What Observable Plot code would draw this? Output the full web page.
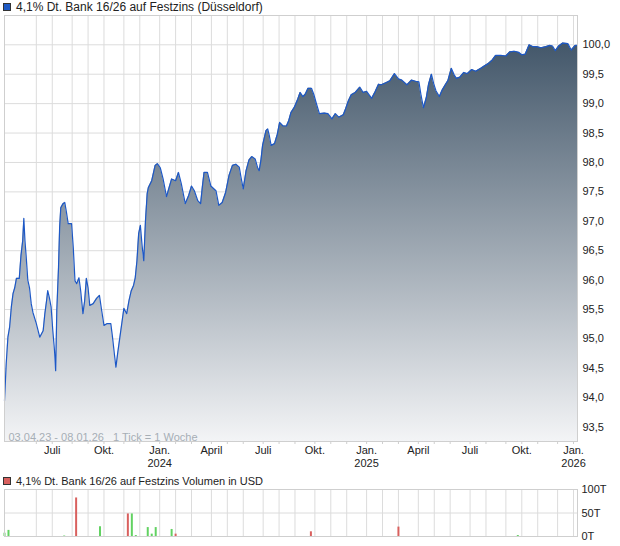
<!DOCTYPE html>
<html><head><meta charset="utf-8">
<script src="https://cdn.jsdelivr.net/npm/d3@7"></script>
<script src="https://cdn.jsdelivr.net/npm/@observablehq/plot@0.6"></script>
<style>
body{margin:0;background:#fff;font-family:"Liberation Sans",Arial,sans-serif;}
#wrap{position:relative;width:620px;height:546px;overflow:hidden;}
.title{position:absolute;left:3px;color:#222;white-space:nowrap;line-height:12px;}
.sq{display:inline-block;width:6px;height:6px;border:1px solid #333;margin-right:5px;vertical-align:0px}
</style></head><body>
<div id="wrap">
 <div id="price" style="position:absolute;left:0;top:0"></div>
 <div id="vol" style="position:absolute;left:0;top:484px"></div>
 <div class="title" style="top:1px;font-size:12px"><span class="sq" style="background:#1f5ac4"></span><span id="t1"></span></div>
 <div class="title" style="top:475px;font-size:11px"><span class="sq" style="background:#d9605e"></span><span id="t2"></span></div>
</div>
<script>
const titlePrice = "4,1% Dt. Bank 16/26 auf Festzins (Düsseldorf)";
const titleVolume = "4,1% Dt. Bank 16/26 auf Festzins Volumen in USD";
const rangeLabel = "03.04.23 - 08.01.26   1 Tick = 1 Woche";
const startDate = "2023-04-03";
const endDate = "2026-01-05";

// days after 03.04.2023 and price
const days = [
 0,3,6,9,12,15,18,21,26,29,
 32,34,36,38,41,44,47,50,56,62,
 68,71,74,76,79,82,85,88,90,92,
 95,97,99,103,106,109,112,118,121,124,
 127,131,134,138,141,144,147,150,156,162,
 167,171,175,180,187,190,193,196,199,203,
 207,210,215,219,223,227,230,233,236,239,
 242,245,248,251,253,259,265,269,274,279,
 285,288,294,301,306,311,318,324,329,334,
 340,345,348,351,357,363,372,377,383,389,
 395,401,407,413,416,420,425,430,435,441,
 445,448,451,454,460,463,466,469,475,480,
 484,490,496,500,504,510,516,520,525,529,
 534,540,544,549,554,563,569,576,582,588,
 596,600,605,610,617,625,631,637,646,652,
 658,663,672,678,686,693,699,708,716,723,
 729,733,737,742,746,751,755,759,765,770,
 776,780,786,791,795,801,808,814,822,829,
 838,844,851,858,864,873,882,889,897,905,
 910,916,923,929,936,944,953,959,964,969,
 975,982,991,997,1004,1008];
const price = [
 93.95,94.58,95.03,95.2,95.54,95.77,95.87,96.03,96.03,96.42,
 96.67,97.05,96.67,96.42,96.0,95.87,95.6,95.45,95.26,95.03,
 95.14,95.43,95.65,95.82,95.7,95.54,95.14,94.8,94.46,95.48,
 96.21,96.9,97.23,97.3,97.32,97.15,96.96,96.96,96.55,95.99,
 95.94,96.04,95.82,95.43,95.65,96.03,95.87,95.57,95.6,95.69,
 95.74,95.48,95.23,95.26,95.26,95.03,94.77,94.52,94.75,95.03,
 95.31,95.52,95.43,95.65,95.82,95.91,96.04,96.33,96.79,96.93,
 96.59,96.33,97.01,97.47,97.57,97.69,97.95,97.98,97.91,97.72,
 97.42,97.52,97.72,97.69,97.83,97.64,97.3,97.44,97.6,97.52,
 97.35,97.3,97.58,97.83,97.83,97.6,97.52,97.27,97.32,97.49,
 97.78,97.95,97.97,97.92,97.75,97.55,97.86,98.04,98.1,98.06,
 97.92,97.86,98.03,98.29,98.54,98.57,98.45,98.29,98.32,98.48,
 98.68,98.62,98.62,98.71,98.85,98.94,99.08,99.19,99.12,99.16,
 99.26,99.26,99.16,98.99,98.83,98.84,98.83,98.74,98.83,98.77,
 98.81,98.91,99.05,99.15,99.19,99.28,99.19,99.21,99.09,99.2,
 99.33,99.32,99.36,99.39,99.51,99.42,99.4,99.32,99.4,99.38,
 99.37,99.13,98.93,99.1,99.33,99.5,99.34,99.22,99.12,99.23,
 99.33,99.39,99.6,99.49,99.43,99.45,99.53,99.51,99.58,99.55,
 99.6,99.64,99.68,99.74,99.82,99.82,99.81,99.88,99.89,99.87,
 99.83,99.84,100.0,99.97,99.97,99.95,99.97,99.99,99.98,99.9,
 99.98,100.03,100.02,99.91,99.99,99.99];

// weekly volume (thousand USD), week start dates, direction
const volDates = ["2023-04-03","2023-04-10","2023-07-17","2023-08-07","2023-09-18","2023-11-06","2023-11-13","2023-11-20","2023-12-11","2023-12-18","2023-12-25","2024-01-22","2024-01-29","2024-09-23","2025-02-24","2025-09-22"];
const volValues = [7,13,1,82,21,48,48,2,19,5,19,15,5,10,20,2];
const volDir = ["up","up","up","down","up","down","up","up","up","up","up","up","down","down","down","up"];

const yTicks = [93.5,94,94.5,95,95.5,96,96.5,97,97.5,98,98.5,99,99.5,100];
const volTicks = [0,50,100];
const monthLabels = {0:"Jan.",3:"April",6:"Juli",9:"Okt."};

document.getElementById("t1").textContent = titlePrice;
document.getElementById("t2").textContent = titleVolume;

const start = new Date(startDate), end = new Date(endDate);
const priceData = days.map((d,i)=>({date: d3.utcDay.offset(start,d), price: price[i]}));
const volData = volDates.map((d,i)=>({date:new Date(d), v: volValues[i], c: volDir[i]==="up" ? "#62d262" : "#d9605e"}));

// grid at the week that contains the first of each month
const months = d3.utcMonths(d3.utcMonth.offset(start,1), d3.utcMonth.offset(end,1));
const monthTicks = months.map(m=>({m, w: d3.utcMonday.floor(m)})).filter(o=>o.w>=start && o.w<=end);
const quarterTicks = monthTicks.filter(o=>o.m.getUTCMonth()%3===0);
const fmt = o => { const k=o.m.getUTCMonth(); return k===0 ? monthLabels[0]+"\n"+o.m.getUTCFullYear() : monthLabels[k]; };

const yMin = 93.257, yMax = 100.498;
const font = "'Liberation Sans', Arial, sans-serif";

const priceSvg = Plot.plot({
  width:620, height:475,
  marginLeft:4, marginRight:43, marginTop:15, marginBottom:34,
  style:{background:"transparent", fontFamily:font, fontSize:"11px", color:"#222", overflow:"visible"},
  x:{type:"utc", domain:[start,end], axis:null, label:null},
  y:{domain:[yMin,yMax], axis:null, label:null},
  marks:[
    Plot.ruleY(yTicks,{stroke:"#dcdcdc", strokeOpacity:1}),
    Plot.ruleX(monthTicks,{x:"w", stroke:"#dcdcdc", strokeOpacity:1}),
    Plot.areaY(priceData,{x:"date", y1:yMin, y2:"price", fill:"url(#pg)"}),
    Plot.lineY(priceData,{x:"date", y:"price", stroke:"#1d58c6", strokeWidth:1.2}),
    Plot.frame({stroke:"#cfcfcf"}),
    Plot.axisX(monthTicks.map(o=>o.w),{tickSize:3, tickFormat:()=>"", stroke:"#cfcfcf", label:null}),
    Plot.text(quarterTicks,{x:"w", text:fmt, frameAnchor:"bottom", lineAnchor:"top", dy:3, lineHeight:1.18, fill:"#222", fontSize:11}),
    Plot.axisY(yTicks,{anchor:"right", tickSize:0, tickPadding:5, tickFormat:d=>d.toFixed(1).replace(".",","), fontSize:11, fill:"#222", label:null}),
    Plot.text([rangeLabel],{text:d=>d, frameAnchor:"bottom-left", dx:4, dy:-1, fill:"#a6aeb6", fontSize:11})
  ]
});
const defs = d3.select(priceSvg).insert("defs",":first-child");
const grad = defs.append("linearGradient").attr("id","pg").attr("x1",0).attr("y1",0).attr("x2",0).attr("y2",1);
grad.append("stop").attr("offset","0%").attr("stop-color","#43576a");
grad.append("stop").attr("offset","100%").attr("stop-color","#f3f4f6");
document.getElementById("price").appendChild(priceSvg);

const volSvg = Plot.plot({
  width:620, height:62,
  marginLeft:4, marginRight:43, marginTop:5, marginBottom:10,
  style:{background:"transparent", fontFamily:font, fontSize:"11px", color:"#222", overflow:"visible"},
  x:{type:"utc", domain:[start,end], axis:null, label:null},
  y:{domain:[0,100], axis:null, label:null},
  color:{type:"identity"},
  marks:[
    Plot.ruleX(monthTicks,{x:"w", stroke:"#dcdcdc"}),
    Plot.ruleY([50],{stroke:"#dcdcdc"}),
    Plot.ruleX(volData,{x:"date", y1:0, y2:"v", stroke:"c", strokeWidth:2}),
    Plot.frame({stroke:"#cfcfcf"}),
    Plot.axisY(volTicks,{anchor:"right", tickSize:0, tickPadding:4, tickFormat:d=>d+"T", fontSize:11, fill:"#222", label:null})
  ]
});
document.getElementById("vol").appendChild(volSvg);
</script>
</body></html>
